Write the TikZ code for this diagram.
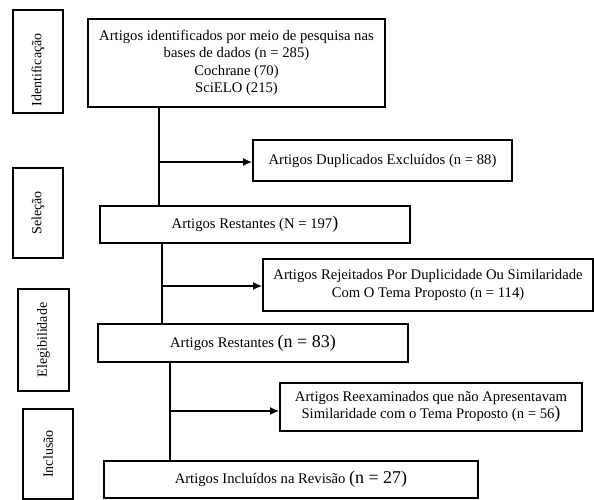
\documentclass[tikz,border=0pt]{standalone}
\usepackage{fontspec}
\setmainfont{Liberation Serif}
\usetikzlibrary{arrows.meta}
\tikzset{
    caixa/.style={draw, line width=1pt, rectangle, align=center, inner sep=2pt, font=\fontsize{11}{13}\selectfont},
    etapa/.style={draw, line width=1pt, rectangle, rotate=90, inner sep=2pt, font=\fontsize{10.5}{12}\selectfont},
    fluxo/.style={line width=1.3pt},
    seta/.style={line width=1.3pt, -{Latex[length=7pt,width=6pt]}}
}
\newcommand{\grande}[1]{{\fontsize{13.5}{13.5}\selectfont #1}}
\begin{document}
\begin{tikzpicture}[x=0.75pt, y=-0.75pt]
    \useasboundingbox (0,0) rectangle (594,500);

    % etapas
    \node[etapa, minimum width=77.25pt, minimum height=37.5pt, inner xsep=5pt, text width=67.25pt, align=left] (ident) at (38,61.5) {Identificação};
    \node[etapa, minimum width=67.5pt, minimum height=37.5pt] (sel) at (38,213) {Seleção};
    \node[etapa, minimum width=76.5pt, minimum height=38.25pt] (eleg) at (43.5,340) {Elegibilidade};
    \node[etapa, minimum width=67.5pt, minimum height=37.5pt] (incl) at (48,454) {Inclusão};

    % caixas principais
    \node[caixa, minimum width=222.75pt, minimum height=66pt] (busca) at (236.5,63)
        {Artigos identificados por meio de pesquisa nas\\ bases de dados (n = 285)\\ Cochrane (70)\\ SciELO (215)};
    \node[caixa, minimum width=194.25pt, minimum height=30.75pt] (dup) at (382.5,160.5)
        {Artigos Duplicados Excluídos (n = 88)};
    \node[caixa, minimum width=232.5pt, minimum height=27.75pt] (rest1) at (255,224.5)
        {Artigos Restantes (N = 197\grande{)}};
    \node[caixa, minimum width=247.5pt, minimum height=39pt] (rej) at (428,285)
        {Artigos Rejeitados Por Duplicidade Ou Similaridade\\ Com O Tema Proposto (n = 114)};
    \node[caixa, minimum width=232.5pt, minimum height=28.5pt] (rest2) at (253,343)
        {Artigos Restantes \grande{(n = 83)}};
    \node[caixa, minimum width=226.5pt, minimum height=36pt] (reex) at (431,407)
        {Artigos Reexaminados que não Apresentavam\\ Similaridade com o Tema Proposto (n = 56\grande{)}};
    \node[caixa, minimum width=280.5pt, minimum height=27.75pt] (final) at (291,479.5)
        {Artigos Incluídos na Revisão \grande{(n = 27)}};

    % ligacoes
    \coordinate (j1) at (159,162);
    \coordinate (j2) at (162,286);
    \coordinate (j3) at (170,411);
    \draw[fluxo] (busca.south -| j1) -- (rest1.north -| j1);
    \draw[seta] (j1) -- (dup.west |- j1);
    \draw[fluxo] (rest1.south -| j2) -- (rest2.north -| j2);
    \draw[seta] (j2) -- (rej.west |- j2);
    \draw[fluxo] (rest2.south -| j3) -- (final.north -| j3);
    \draw[seta] (j3) -- (reex.west |- j3);
\end{tikzpicture}
\end{document}
